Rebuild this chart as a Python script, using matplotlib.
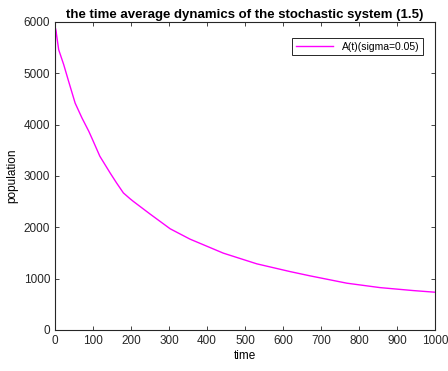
import matplotlib
matplotlib.use("Agg")
import matplotlib.pyplot as plt

plt.rcParams['font.family'] = ['Liberation Sans', 'DejaVu Sans']

# values
time = [0, 1, 2.6, 9.7, 22.9, 36, 53, 71, 89, 99, 118, 145, 162, 180, 197,
        206, 250, 303, 355, 443, 531, 618, 671, 768, 855, 943, 1000]
avg_pop = [490, 5880, 5830, 5460, 5170, 4840, 4420, 4130, 3870, 3705, 3385,
           3060, 2865, 2670, 2560, 2506, 2260, 1972, 1771, 1497, 1289, 1139,
           1055, 912, 826, 768, 736]

x_ticks = [0, 100, 200, 300, 400, 500, 600, 700, 800, 900, 1000]
y_ticks = [0, 1000, 2000, 3000, 4000, 5000, 6000]

fig = plt.figure(figsize=(4.48, 3.71), dpi=100)
ax = fig.add_axes([55 / 448, 41 / 371, 380 / 448, 308 / 371])

ax.plot(time, avg_pop, color='magenta', linewidth=1.0,
        label='A(t)(sigma=0.05)')

ax.set_xlim(0, 1000)
ax.set_ylim(0, 6000)
ax.set_xticks(x_ticks)
ax.set_yticks(y_ticks)
ax.tick_params(direction='in', top=True, right=True, labelsize=8.5,
               length=3, width=0.6, colors='#262626')
for s in ax.spines.values():
    s.set_linewidth(0.8)
    s.set_color('#262626')

ax.set_xlabel('time', fontsize=8.5, labelpad=2)
ax.set_ylabel('population', fontsize=8.5, labelpad=4)
ax.set_title('the time average dynamics of the stochastic system (1.5)',
             fontsize=9.5, fontweight='bold', pad=3)

leg = ax.legend(loc='upper right', bbox_to_anchor=(0.968, 0.948),
                borderaxespad=0, fontsize=7.5, fancybox=False,
                framealpha=1, edgecolor='#262626', handlelength=3.6,
                borderpad=0.35)
leg.get_frame().set_linewidth(0.7)

fig.savefig('out.png', dpi=100)
